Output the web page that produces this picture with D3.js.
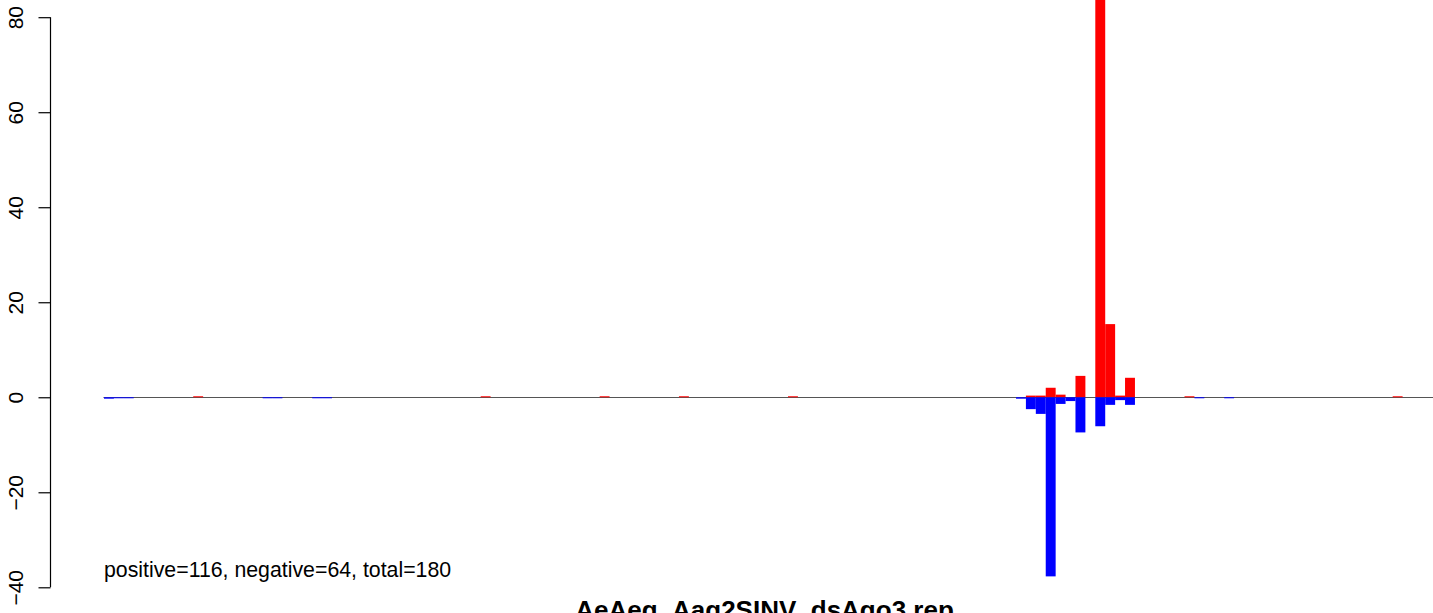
<!DOCTYPE html>
<html>
<head>
<meta charset="utf-8">
<script src="https://cdn.jsdelivr.net/npm/d3@7"></script>
<style>
  html, body { margin: 0; padding: 0; background: #fff; }
  svg { display: block; font-family: "Liberation Sans", Arial, Helvetica, sans-serif; }
</style>
</head>
<body>
<svg id="chart" width="1433" height="613"></svg>
<script>
// ---- data ----
const nBars = 136;
// bar index -> value (reads)
const positiveIdx = [9, 38, 50, 58, 69, 93, 94, 95, 96, 98, 100, 101, 102, 103, 109, 130];
const positiveVal = [0.15, 0.15, 0.15, 0.15, 0.15, 0.35, 0.35, 2.0, 0.55, 4.5, 87.5, 15.4, 0.35, 4.1, 0.15, 0.15];
const negativeIdx = [0, 1, 2, 16, 17, 21, 22, 92, 93, 94, 95, 96, 97, 98, 100, 101, 102, 103, 110, 113];
const negativeVal = [-0.3, -0.1, -0.1, -0.1, -0.1, -0.1, -0.1, -0.3, -2.5, -3.5, -37.7, -1.4, -0.8, -7.4, -6.1, -1.6, -0.6, -1.6, -0.1, -0.1];
const yTicks = [-40, -20, 0, 20, 40, 60, 80];
const summaryText = "positive=116, negative=64, total=180";
const titleText = "AeAeg_Aag2SINV_dsAgo3 rep";

// ---- layout ----
const svg = d3.select("#chart");
const x = d3.scaleBand().domain(d3.range(nBars)).range([104, 104 + nBars * 9.913]).padding(0);
const y = d3.scaleLinear().domain([-40, 80]).range([587.3, 17.2]);

// zero line
svg.append("line")
  .attr("x1", x(0) - 0.5).attr("x2", x(nBars - 1) + x.bandwidth())
  .attr("y1", Math.round(y(0)) + 0.5).attr("y2", Math.round(y(0)) + 0.5)
  .attr("stroke", "#555").attr("stroke-width", 1);

const pos = positiveIdx.map((i, k) => ({ i, v: positiveVal[k] }));
const neg = negativeIdx.map((i, k) => ({ i, v: negativeVal[k] }));

svg.append("g").selectAll("rect").data(pos).join("rect")
  .attr("x", d => x(d.i)).attr("width", x.bandwidth())
  .attr("y", d => Math.min(y(d.v), y(0) - 1))
  .attr("height", d => Math.max(1, y(0) - y(d.v)))
  .attr("fill", "#ff0000");

svg.append("g").selectAll("rect").data(neg).join("rect")
  .attr("x", d => x(d.i)).attr("width", x.bandwidth())
  .attr("y", y(0))
  .attr("height", d => Math.max(1, y(d.v) - y(0)))
  .attr("fill", "#0000ff");

// y axis
const axisX = 50.5;
const yAxis = d3.axisLeft(y).tickValues(yTicks).tickSize(12).tickPadding(0)
  .tickFormat(d => d < 0 ? "\u2212" + Math.abs(d) : String(d));
const gAxis = svg.append("g").attr("transform", `translate(${axisX},0)`).call(yAxis);
gAxis.select(".domain").attr("d", `M0,${y(-40)}V${y(80)}`).attr("stroke", "#000").attr("stroke-width", 1.2);
gAxis.selectAll(".tick line").attr("stroke", "#000").attr("stroke-width", 1.2);
gAxis.selectAll(".tick text")
  .attr("x", null).attr("dy", null)
  .attr("transform", "translate(-35.5,0) rotate(-90)")
  .attr("text-anchor", "middle")
  .attr("dy", "0.36em")
  .attr("fill", "#000")
  .style("font-size", "21px")
  .style("font-family", "Liberation Sans, Arial, sans-serif");

// summary text
svg.append("text").attr("x", 104).attr("y", 577)
  .style("font-size", "21.3px").attr("fill", "#000").text(summaryText);

// title (cut at bottom, as in the reference)
svg.append("text").attr("x", 764.5).attr("y", 619)
  .attr("text-anchor", "middle")
  .style("font-size", "26px").style("font-weight", "bold").attr("fill", "#000")
  .text(titleText);
</script>
</body>
</html>
